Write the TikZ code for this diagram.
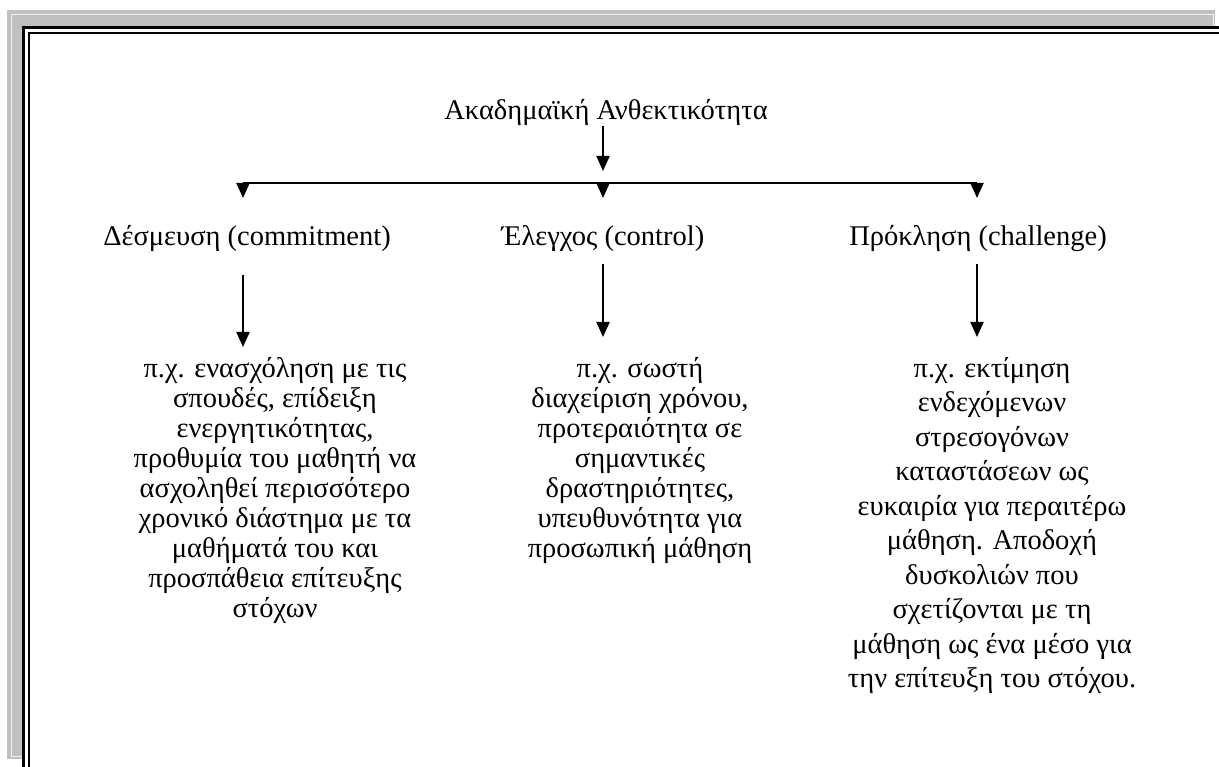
\documentclass[tikz,border=0pt]{standalone}
\usepackage{fontspec}
\setmainfont{Liberation Serif}
\usetikzlibrary{arrows.meta}

\definecolor{bordergray}{RGB}{192,192,192}
\tikzset{
  heading/.style={font=\fontsize{28.5}{34.5}\selectfont, inner sep=0pt, anchor=base},
  example/.style={font=\fontsize{28.5}{30}\selectfont, inner sep=0pt, anchor=north, align=center},
  arr/.style={-{Triangle[length=15pt,width=13pt]}, line width=2pt},
}

\begin{document}
\begin{tikzpicture}[x=1pt,y=-1pt]
        \useasboundingbox (0,0) rectangle (1219,767);
        \clip (0,0) rectangle (1219,767);

        % page border with shadow
        \fill[bordergray] (7,10) rectangle (1215,759);
        \draw[gray!12, line width=1pt] (11.5,14.5) rectangle (1213,756);
        \fill[white] (22,26) rectangle (1240,790);
        \draw[line width=3pt] (23.5,790) -- (23.5,27.5) -- (1240,27.5);
        \draw[line width=2.5pt] (29,790) -- (29,33) -- (1240,33);

        \node[heading] (title) at (606,120) {Ακαδημαϊκή Ανθεκτικότητα};

        \coordinate (bl) at (243,183);
        \coordinate (bm) at (603,183);
        \coordinate (br) at (977,183);

        \draw[arr] (title.south -| bm) -- ([yshift=12pt]bm);
        \draw[line width=2pt] (bl) -- (br);
        \draw[arr] (bl) -- ++(0,15);
        \draw[arr] (bm) -- ++(0,15);
        \draw[arr] (br) -- ++(0,15);

        \node[heading] (commit) at (247,246) {Δέσμευση (commitment)};
        \node[heading] (control) at (603,246) {Έλεγχος (control)};
        \node[heading] (challenge) at (978,246) {Πρόκληση (challenge)};

        \node[example] (commitex) at (275,357) {π.χ. ενασχόληση με τις\\ σπουδές, επίδειξη\\ ενεργητικότητας,\\ προθυμία του μαθητή να\\ ασχοληθεί περισσότερο\\ χρονικό διάστημα με τα\\ μαθήματά του και\\ προσπάθεια επίτευξης\\ στόχων};
        \node[example] (controlex) at (640,357) {π.χ. σωστή\\ διαχείριση χρόνου,\\ προτεραιότητα σε\\ σημαντικές\\ δραστηριότητες,\\ υπευθυνότητα για\\ προσωπική μάθηση};
        \node[example, font=\fontsize{28.5}{34.5}\selectfont] (challengex) at (992,357) {π.χ. εκτίμηση\\ ενδεχόμενων\\ στρεσογόνων\\ καταστάσεων ως\\ ευκαιρία για περαιτέρω\\ μάθηση. Αποδοχή\\ δυσκολιών που\\ σχετίζονται με τη\\ μάθηση ως ένα μέσο για\\ την επίτευξη του στόχου.};

        \draw[arr, shorten <=23pt, shorten >=10pt] (commit.south -| bl) -- (commitex.north -| bl);
        \draw[arr, shorten <=12pt, shorten >=20pt] (control.south -| bm) -- (controlex.north -| bm);
        \draw[arr, shorten <=12pt, shorten >=20pt] (challenge.south -| br) -- (challengex.north -| br);
\end{tikzpicture}
\end{document}
